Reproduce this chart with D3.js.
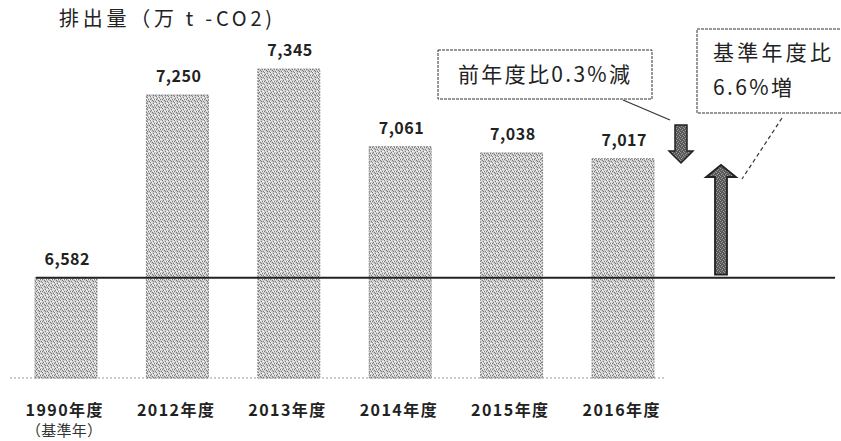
<!DOCTYPE html>
<html><head><meta charset="utf-8">
<script src="https://cdn.jsdelivr.net/npm/d3@7"></script>
<style>body{margin:0;background:#fff}svg{display:block}</style>
</head><body>
<svg id="c" width="841" height="441"></svg>
<script>
const years = ["1990年度","2012年度","2013年度","2014年度","2015年度","2016年度"];
const values = [6582, 7250, 7345, 7061, 7038, 7017];
const valueLabels = ["6,582","7,250","7,345","7,061","7,038","7,017"];
const subLabel = "（基準年）";
const title = "排出量（万 t -CO2)";
const noteYoY = "前年度比0.3%減";
const noteBase = ["基準年度比","6.6%増"];

const svg = d3.select("#c");
const font = "'Noto Sans CJK JP','Noto Sans',sans-serif";
const x = d3.scalePoint().domain(years).range([66, 623]);
const y = d3.scaleLinear().domain([6215, 7345]).range([378, 69]);
const bw = 62;

const defs = svg.append("defs");
const p = defs.append("pattern").attr("id","dither").attr("width",6).attr("height",6).attr("patternUnits","userSpaceOnUse");
p.append("rect").attr("width",6).attr("height",6).attr("fill","#cdcdcd");
[[0,0],[3,1],[1,2],[4,3],[2,4],[5,5],[0,3],[3,5]].forEach(([a,b])=>p.append("rect").attr("x",a).attr("y",b).attr("width",1).attr("height",1).attr("fill","#7a7a7a"));
[[1,0],[4,1],[2,2],[5,3],[0,5],[3,3],[5,1]].forEach(([a,b])=>p.append("rect").attr("x",a).attr("y",b).attr("width",1).attr("height",1).attr("fill","#f4f4f4"));
const p2 = defs.append("pattern").attr("id","darkd").attr("width",4).attr("height",4).attr("patternUnits","userSpaceOnUse");
p2.append("rect").attr("width",4).attr("height",4).attr("fill","#5a5a5a");
[[0,0],[2,1],[1,2],[3,3]].forEach(([a,b])=>p2.append("rect").attr("x",a).attr("y",b).attr("width",1).attr("height",1).attr("fill","#9a9a9a"));

svg.append("text").attr("x",59).attr("y",26).attr("font-family",font).attr("font-size",20)
  .attr("textLength",213).attr("lengthAdjust","spacing").attr("fill","#222").text(title);

svg.append("line").attr("x1",10).attr("x2",665).attr("y1",y(6215)).attr("y2",y(6215))
  .attr("stroke","#999").attr("stroke-dasharray","2,2").attr("stroke-width",1);

svg.selectAll("rect.bar").data(values).join("rect").attr("class","bar")
  .attr("x",(d,i)=>x(years[i])-bw/2).attr("width",bw)
  .attr("y",d=>y(d)).attr("height",d=>y(6215)-y(d))
  .attr("fill","url(#dither)").attr("stroke","#777").attr("stroke-width",0.8).attr("stroke-dasharray","2,1");

svg.selectAll("text.val").data(values).join("text").attr("class","val")
  .attr("x",(d,i)=>x(years[i])+1).attr("y",d=>y(d)-13)
  .attr("text-anchor","middle").attr("font-family",font).attr("font-size",16).attr("font-weight","bold")
  .attr("fill","#222").attr("textLength",45).attr("lengthAdjust","spacing").text((d,i)=>valueLabels[i]);

svg.append("line").attr("x1",36).attr("x2",835).attr("y1",y(values[0])).attr("y2",y(values[0]))
  .attr("stroke","#222").attr("stroke-width",2);

svg.selectAll("text.xl").data(years).join("text").attr("class","xl")
  .attr("x",d=>x(d)-2).attr("y",416).attr("text-anchor","middle")
  .attr("font-family",font).attr("font-size",16).attr("font-weight","bold").attr("fill","#222")
  .attr("textLength",77).attr("lengthAdjust","spacing").text(d=>d);
svg.append("text").attr("x",26).attr("y",436).attr("font-family",font).attr("font-size",15)
  .attr("fill","#333").attr("textLength",76).attr("lengthAdjust","spacing").text(subLabel);

svg.append("rect").attr("x",438).attr("y",50).attr("width",214).attr("height",49)
  .attr("fill","#fff").attr("stroke","#333").attr("stroke-width",1).attr("stroke-dasharray","3,1");
svg.append("text").attr("x",458).attr("y",82).attr("font-family",font).attr("font-size",21)
  .attr("fill","#222").attr("textLength",172).attr("lengthAdjust","spacing").text(noteYoY);
svg.append("line").attr("x1",623).attr("y1",100).attr("x2",670).attr("y2",120).attr("stroke","#333").attr("stroke-width",1.2);

svg.append("rect").attr("x",697).attr("y",29).attr("width",160).attr("height",84)
  .attr("fill","#fff").attr("stroke","#333").attr("stroke-width",1).attr("stroke-dasharray","3,1");
svg.append("text").attr("x",713).attr("y",60).attr("font-family",font).attr("font-size",21)
  .attr("fill","#222").attr("textLength",118).attr("lengthAdjust","spacing").text(noteBase[0]);
svg.append("text").attr("x",713).attr("y",95).attr("font-family",font).attr("font-size",21)
  .attr("fill","#222").attr("textLength",79).attr("lengthAdjust","spacing").text(noteBase[1]);
svg.append("line").attr("x1",782).attr("y1",118).attr("x2",742).attr("y2",179)
  .attr("stroke","#333").attr("stroke-width",1.2).attr("stroke-dasharray","4,3");

const dax = 681, dTop = 125, dTip = 163;
svg.append("path").attr("d",`M${dax-6},${dTop} L${dax+6},${dTop} L${dax+6},${dTip-12} L${dax+12},${dTip-12} L${dax},${dTip} L${dax-12},${dTip-12} L${dax-6},${dTip-12} Z`)
  .attr("fill","url(#darkd)").attr("stroke","#222").attr("stroke-width",1.5);
const uax = 721, uBot = y(values[0]) - 3, uTip = 165;
svg.append("path").attr("d",`M${uax-6},${uBot} L${uax+6},${uBot} L${uax+6},${uTip+12} L${uax+15},${uTip+12} L${uax},${uTip} L${uax-15},${uTip+12} L${uax-6},${uTip+12} Z`)
  .attr("fill","url(#darkd)").attr("stroke","#222").attr("stroke-width",1.8);
</script>
</body></html>
